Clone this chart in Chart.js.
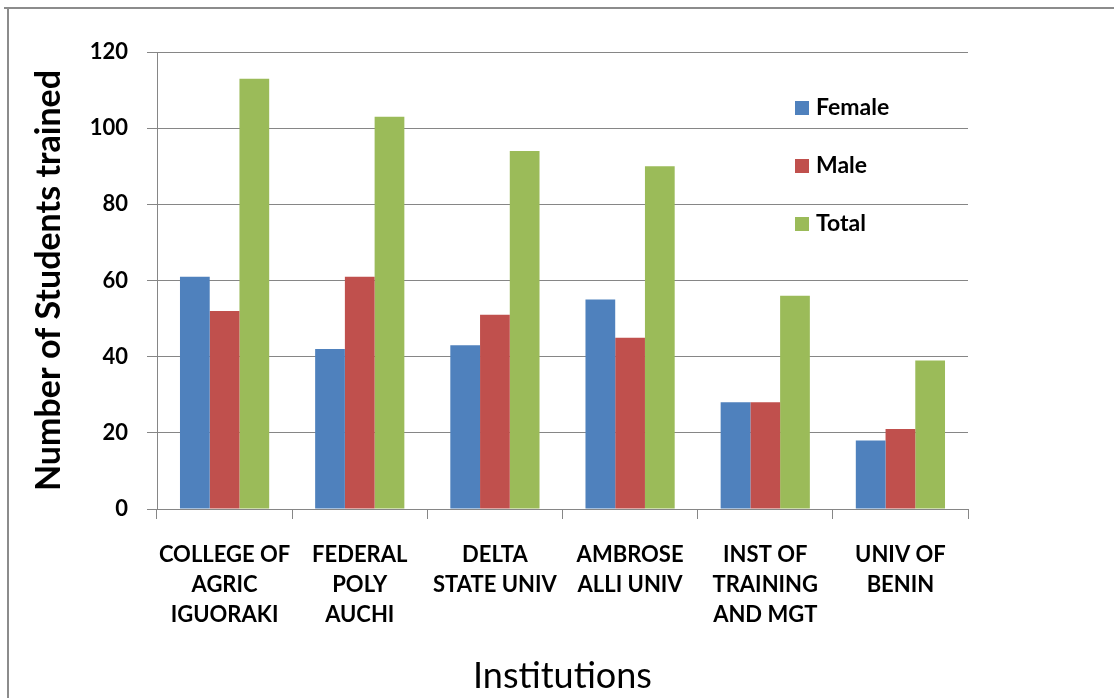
<!DOCTYPE html>
<html>
<head>
<meta charset="utf-8">
<title>Number of Students trained by Institution</title>
<script src="https://cdn.jsdelivr.net/npm/chart.js@4.4.1/dist/chart.umd.min.js"></script>
<style>
    html, body { margin: 0; padding: 0; background: #fff; }
    #wrap { width: 1114px; height: 698px; }
</style>
</head>
<body>
<div id="wrap"><canvas id="trainedChart" width="1114" height="698"></canvas></div>
<script>
// Data
const institutions = [
    ['COLLEGE OF', 'AGRIC', 'IGUORAKI'],
    ['FEDERAL', 'POLY', 'AUCHI'],
    ['DELTA', 'STATE UNIV'],
    ['AMBROSE', 'ALLI UNIV'],
    ['INST OF', 'TRAINING', 'AND MGT'],
    ['UNIV OF', 'BENIN']
];
const female = [61, 42, 43, 55, 28, 18];
const male = [52, 61, 51, 45, 28, 21];
const total = [113, 103, 94, 90, 56, 39];
const yTicks = [0, 20, 40, 60, 80, 100, 120];

const FONT = 'Lato, Carlito, Calibri, "Open Sans", sans-serif';
const GRID = '#868686';

// Outer frame (top and left edges only, like the source image)
const framePlugin = {
    id: 'frame',
    afterDraw(chart) {
        const ctx = chart.ctx;
        ctx.save();
        ctx.strokeStyle = '#8c8c8c';
        ctx.lineWidth = 2;
        ctx.beginPath();
        ctx.moveTo(4, 8);
        ctx.lineTo(chart.width, 8);
        ctx.moveTo(8, 8);
        ctx.lineTo(8, chart.height);
        ctx.stroke();
        ctx.restore();
    }
};

// Legend drawn inside the plot area, stacked vertically
const insideLegend = {
    id: 'insideLegend',
    afterDatasetsDraw(chart) {
        const ctx = chart.ctx;
        const area = chart.chartArea;
        const x = area.left + 638;
        let y = area.top + 49;
        ctx.save();
        ctx.font = 'bold 23px ' + FONT;
        ctx.textBaseline = 'middle';
        chart.data.datasets.forEach(ds => {
            ctx.fillStyle = ds.backgroundColor;
            ctx.fillRect(x, y, 14, 14);
            ctx.fillStyle = '#000';
            ctx.fillText(ds.label, x + 21, y + 7);
            y += 58;
        });
        ctx.restore();
    }
};

function initChart() {
    const ctx = document.getElementById('trainedChart').getContext('2d');
    new Chart(ctx, {
        type: 'bar',
        data: {
            labels: institutions,
            datasets: [
                { label: 'Female', data: female, backgroundColor: '#4F81BD' },
                { label: 'Male', data: male, backgroundColor: '#C0504D' },
                { label: 'Total', data: total, backgroundColor: '#9BBB59' }
            ]
        },
        options: {
            responsive: false,
            animation: false,
            layout: { padding: { left: 0, right: 146, top: 52, bottom: 0 } },
            datasets: {
                bar: { categoryPercentage: 0.66, barPercentage: 1.0 }
            },
            plugins: {
                legend: { display: false },
                tooltip: { enabled: false }
            },
            scales: {
                x: {
                    afterFit: s => { s.height = 189; },
                    grid: {
                        display: true,
                        drawOnChartArea: false,
                        drawTicks: true,
                        tickLength: 10,
                        color: GRID,
                        offset: true
                    },
                    border: { color: GRID, width: 1 },
                    ticks: {
                        color: '#000',
                        padding: 21,
                        maxRotation: 0,
                        autoSkip: false,
                        font: { family: FONT, size: 22, weight: 'bold', lineHeight: 1.364 }
                    },
                    title: {
                        display: true,
                        text: 'Institutions',
                        color: '#000',
                        padding: { top: 2, bottom: 0 },
                        font: { family: FONT, size: 36, weight: 'normal' }
                    }
                },
                y: {
                    min: 0,
                    max: 120,
                    afterFit: s => { s.width = 157; },
                    afterBuildTicks: s => { s.ticks = yTicks.map(v => ({ value: v })); },
                    grid: {
                        color: GRID,
                        lineWidth: 1,
                        drawTicks: true,
                        tickLength: 10
                    },
                    border: { color: GRID, width: 1 },
                    ticks: {
                        color: '#000',
                        padding: 19,
                        font: { family: FONT, size: 22, weight: 'bold' }
                    },
                    title: {
                        display: true,
                        text: 'Number of Students trained',
                        color: '#000',
                        padding: { top: 29, bottom: 0 },
                        font: { family: FONT, size: 34, weight: 'bold' }
                    }
                }
            }
        },
        plugins: [framePlugin, insideLegend]
    });
}

initChart();
</script>
</body>
</html>
